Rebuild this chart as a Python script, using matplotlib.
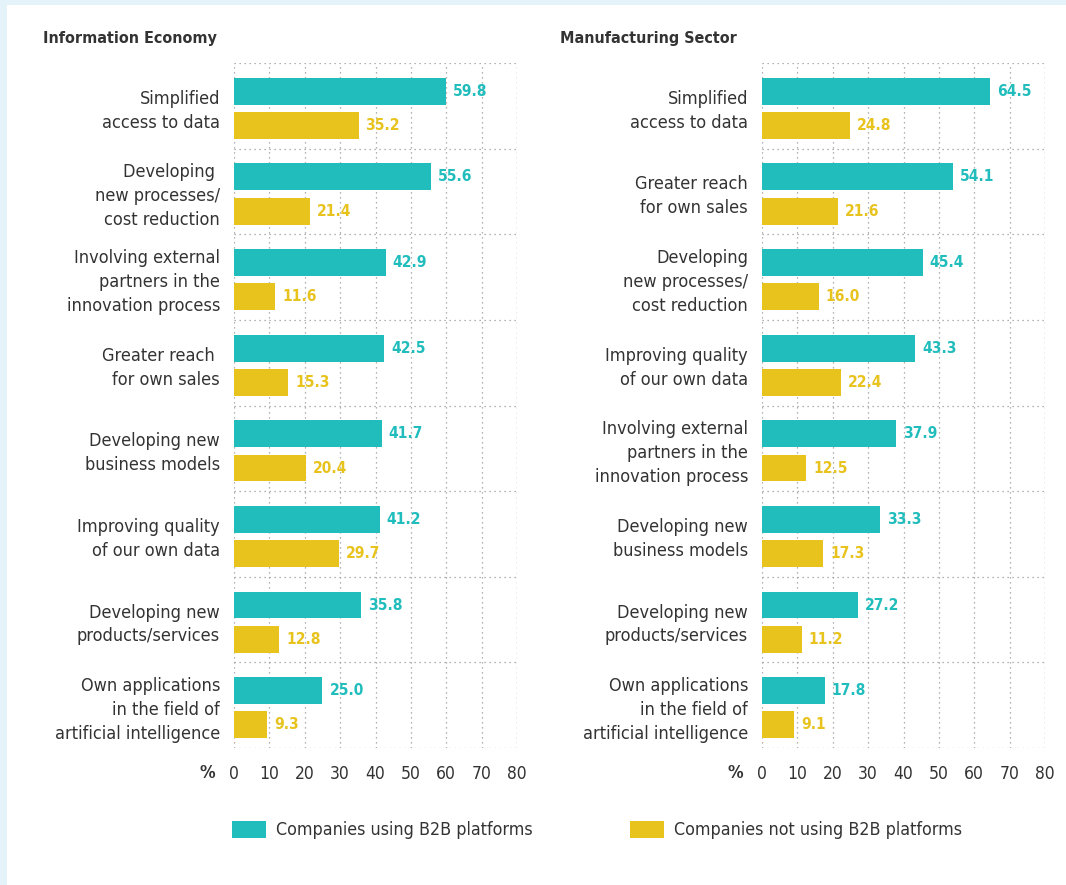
import matplotlib.pyplot as plt
from matplotlib.patches import Rectangle

plt.rcParams['font.family'] = ['DejaVu Sans']
plt.rcParams['font.stretch'] = 'condensed'

teal = '#21bdbd'
yellow = '#e8c31e'
dark = '#333333'

info_labels = [
    "Simplified\naccess to data",
    "Developing \nnew processes/\ncost reduction",
    "Involving external\npartners in the\ninnovation process",
    "Greater reach \nfor own sales",
    "Developing new\nbusiness models",
    "Improving quality\nof our own data",
    "Developing new\nproducts/services",
    "Own applications\nin the field of\nartificial intelligence",
]
info_b2b = [59.8, 55.6, 42.9, 42.5, 41.7, 41.2, 35.8, 25.0]
info_no_b2b = [35.2, 21.4, 11.6, 15.3, 20.4, 29.7, 12.8, 9.3]

manu_labels = [
    "Simplified\naccess to data",
    "Greater reach\nfor own sales",
    "Developing\nnew processes/\ncost reduction",
    "Improving quality\nof our own data",
    "Involving external\npartners in the\ninnovation process",
    "Developing new\nbusiness models",
    "Developing new\nproducts/services",
    "Own applications\nin the field of\nartificial intelligence",
]
manu_b2b = [64.5, 54.1, 45.4, 43.3, 37.9, 33.3, 27.2, 17.8]
manu_no_b2b = [24.8, 21.6, 16.0, 22.4, 12.5, 17.3, 11.2, 9.1]

x_ticks = [0, 10, 20, 30, 40, 50, 60, 70, 80]

fig = plt.figure(figsize=(10.66, 8.85), dpi=100)
fig.patch.set_facecolor('#e4f2fa')
fig.patches.append(Rectangle((7 / 1066, 0), 1, 1 - 5 / 885, transform=fig.transFigure,
                             facecolor='white', edgecolor='none', zorder=-1))

panels = [
    (234, "Information Economy", 43, info_labels, info_b2b, info_no_b2b),
    (762, "Manufacturing Sector", 560, manu_labels, manu_b2b, manu_no_b2b),
]

for left_px, title, title_px, labels, b2b, no_b2b in panels:
    ax = fig.add_axes([left_px / 1066, 1 - 748 / 885, 283 / 1066, 685 / 885])
    n = len(labels)
    idx = list(range(n))
    ax.barh([i + 0.33 for i in idx], b2b, height=0.315, color=teal, zorder=3)
    ax.barh([i + 0.73 for i in idx], no_b2b, height=0.315, color=yellow, zorder=3)
    for i in idx:
        ax.annotate(f"{b2b[i]:.1f}", (b2b[i], i + 0.33), xytext=(5, 0), textcoords='offset points',
                    ha='left', va='center', color=teal, fontsize=11.2, fontweight='bold')
        ax.annotate(f"{no_b2b[i]:.1f}", (no_b2b[i], i + 0.73), xytext=(5, 0), textcoords='offset points',
                    ha='left', va='center', color=yellow, fontsize=11.2, fontweight='bold')
    ax.set_xlim(0, 80)
    ax.set_ylim(n, 0)
    ax.set_xticks(x_ticks)
    ax.set_yticks([i + 0.5 for i in idx], labels, linespacing=1.42)
    ax.set_yticks(range(n + 1), minor=True)
    ax.tick_params(axis='y', which='both', length=0, pad=10, labelsize=13, labelcolor=dark)
    ax.tick_params(axis='x', length=0, pad=12, labelsize=12.5, labelcolor=dark)
    ax.grid(axis='x', which='major', color='#999999', linestyle=(0, (1, 3)), linewidth=0.9, zorder=0)
    ax.grid(axis='y', which='minor', color='#999999', linestyle=(0, (1, 3)), linewidth=0.9, zorder=0)
    ax.grid(axis='y', which='major', visible=False)
    for s in ax.spines.values():
        s.set_visible(False)
    ax.axvline(80, color='#999999', linestyle=(0, (1, 3)), linewidth=0.9, zorder=0)
    ax.text(-0.095, -(773 - 748) / 685, '%', transform=ax.transAxes, ha='center', va='center',
            fontsize=12.5, fontweight='bold', color=dark)
    fig.text(title_px / 1066, 1 - 38 / 885, title, ha='left', va='center',
             fontsize=11.5, fontweight='bold', color=dark)

fig.patches.append(Rectangle((232 / 1066, 1 - 838 / 885), 34 / 1066, 17 / 885,
                             transform=fig.transFigure, facecolor=teal, edgecolor='none'))
fig.text(276 / 1066, 1 - 830 / 885, "Companies using B2B platforms", ha='left', va='center',
         fontsize=12.8, color=dark)
fig.patches.append(Rectangle((630 / 1066, 1 - 838 / 885), 34 / 1066, 17 / 885,
                             transform=fig.transFigure, facecolor=yellow, edgecolor='none'))
fig.text(674 / 1066, 1 - 830 / 885, "Companies not using B2B platforms", ha='left', va='center',
         fontsize=12.8, color=dark)

fig.savefig('out.png', dpi=100, facecolor=fig.get_facecolor())
